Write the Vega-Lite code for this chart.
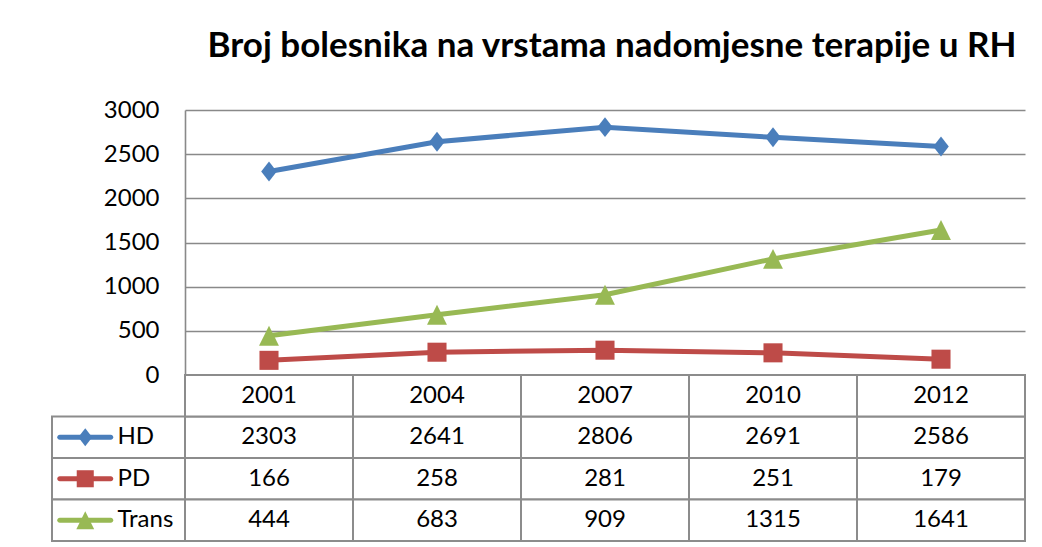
{
  "$schema": "https://vega.github.io/schema/vega-lite/v6.json",
  "padding": {"left": 51, "top": 29, "right": 0, "bottom": 0},
  "background": "white",
  "config": {"view": {"stroke": null}, "font": "Lato"},
  "datasets": {
    "main": [
      {"year": "2001", "series": "HD", "value": 2303},
      {"year": "2004", "series": "HD", "value": 2641},
      {"year": "2007", "series": "HD", "value": 2806},
      {"year": "2010", "series": "HD", "value": 2691},
      {"year": "2012", "series": "HD", "value": 2586},
      {"year": "2001", "series": "PD", "value": 166},
      {"year": "2004", "series": "PD", "value": 258},
      {"year": "2007", "series": "PD", "value": 281},
      {"year": "2010", "series": "PD", "value": 251},
      {"year": "2012", "series": "PD", "value": 179},
      {"year": "2001", "series": "Trans", "value": 444},
      {"year": "2004", "series": "Trans", "value": 683},
      {"year": "2007", "series": "Trans", "value": 909},
      {"year": "2010", "series": "Trans", "value": 1315},
      {"year": "2012", "series": "Trans", "value": 1641}
    ]
  },
  "resolve": {"scale": {"x": "independent", "y": "independent"}},
  "columns": 2,
  "spacing": 0,
  "bounds": "flush",
  "concat": [
    {
      "width": 133,
      "height": 265,
      "data": {"values": []},
      "mark": {"type": "text"},
      "encoding": {}
    },
    {
      "width": 840,
      "height": 265,
      "title": {"text": "Broj bolesnika na vrstama nadomjesne terapije u RH", "fontSize": 35, "fontWeight": "bold", "font": "Lato", "color": "black", "anchor": "middle", "baseline": "alphabetic", "offset": 6, "dx": 7},
      "data": {"name": "main"},
      "encoding": {
        "x": {"field": "year", "type": "ordinal", "axis": null, "scale": {"type": "point", "padding": 0.5}},
        "y": {"field": "value", "type": "quantitative", "scale": {"domain": [0, 3000], "nice": false},
          "axis": {"values": [0, 500, 1000, 1500, 2000, 2500, 3000], "format": "d", "title": null, "ticks": false, "labelPadding": 26, "labelFontSize": 24, "labelColor": "black", "labelFont": "Lato", "gridColor": "#898989", "gridWidth": 1.6, "gridOpacity": 1, "domainColor": "#898989", "domainWidth": 1.6}},
        "color": {"field": "series", "type": "nominal", "scale": {"domain": ["HD", "PD", "Trans"], "range": ["#4a7ebb", "#be4b48", "#98b954"]}, "legend": null}
      },
      "layer": [
        {"mark": {"type": "line", "strokeWidth": 5}},
        {"mark": {"type": "point", "filled": true, "opacity": 1, "size": 300},
          "encoding": {"shape": {"field": "series", "type": "nominal", "scale": {"domain": ["HD", "PD", "Trans"], "range": ["M0,-1.15L0.9,0L0,1.15L-0.9,0Z", "M-1.1,-1.1H1.1V1.1H-1.1Z", "M0,-1.15L1.15,1.15H-1.15Z"]}, "legend": null}}}
      ]
    },
    {
      "width": 133,
      "height": 166,
      "data": {"name": "main"},
      "transform": [{"aggregate": [{"op": "count", "as": "n"}], "groupby": ["series"]}],
      "encoding": {
        "y": {"field": "series", "type": "nominal", "scale": {"type": "band", "domain": ["Year", "HD", "PD", "Trans"], "paddingInner": 0, "paddingOuter": 0}, "axis": null}
      },
      "layer": [
        {"mark": {"type": "rect", "fill": "white", "stroke": "#8c8c8c", "strokeWidth": 2}},
        {"mark": {"type": "tick", "orient": "horizontal", "size": 56, "thickness": 5, "cornerRadius": 2.5, "opacity": 1},
          "encoding": {
            "x": {"datum": "sym", "type": "nominal", "scale": {"type": "band", "domain": ["sym", "lbl"], "paddingInner": 0, "paddingOuter": 0}, "axis": null},
            "color": {"field": "series", "type": "nominal", "legend": null}
          }},
        {"mark": {"type": "point", "filled": true, "opacity": 1, "size": 240},
          "encoding": {
            "x": {"datum": "sym", "type": "nominal"},
            "color": {"field": "series", "type": "nominal", "legend": null},
            "shape": {"field": "series", "type": "nominal", "legend": null}
          }},
        {"mark": {"type": "text", "align": "left", "baseline": "middle", "fontSize": 24, "font": "Lato", "color": "black", "dx": -1},
          "encoding": {
            "x": {"datum": "lbl", "type": "nominal", "bandPosition": 0},
            "text": {"field": "series", "type": "nominal"}
          }}
      ]
    },
    {
      "width": 840,
      "height": 166,
      "data": {"name": "main"},
      "encoding": {
        "x": {"field": "year", "type": "nominal", "scale": {"type": "band", "paddingInner": 0, "paddingOuter": 0}, "axis": null},
        "y": {"field": "series", "type": "nominal", "scale": {"type": "band", "domain": ["Year", "HD", "PD", "Trans"], "paddingInner": 0, "paddingOuter": 0}, "axis": null}
      },
      "layer": [
        {"mark": {"type": "rect", "fill": "white", "stroke": "#8c8c8c", "strokeWidth": 2}},
        {"mark": {"type": "text", "fontSize": 24, "font": "Lato", "color": "black", "baseline": "middle"},
          "encoding": {"text": {"field": "value", "type": "quantitative", "format": "d"}}},
        {
          "transform": [{"aggregate": [{"op": "count", "as": "n"}], "groupby": ["year"]}],
          "layer": [
            {"mark": {"type": "rect", "fill": "white", "stroke": "#8c8c8c", "strokeWidth": 2},
              "encoding": {"y": {"datum": "Year", "type": "nominal"}}},
            {"mark": {"type": "text", "fontSize": 24, "font": "Lato", "color": "black", "baseline": "middle"},
              "encoding": {"y": {"datum": "Year", "type": "nominal"}, "text": {"field": "year", "type": "nominal"}}}
          ]
        }
      ]
    }
  ]
}
